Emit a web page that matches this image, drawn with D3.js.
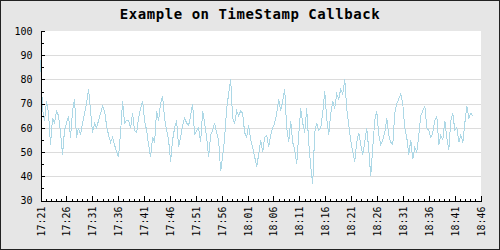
<!DOCTYPE html>
<html><head><meta charset="utf-8">
<script src="https://cdn.jsdelivr.net/npm/d3@7/dist/d3.min.js"></script>
<style>body{margin:0;background:#fff;} svg{display:block;}</style>
</head><body>
<script>
// ---- data ----
const chartTitle = "Example on TimeStamp Callback";
const startTime = "2024-01-01T17:21:00Z";
const sampleSeconds = 23.2;
const values = [
  88, 68, 63, 71, 66, 53, 64, 62, 67, 65, 58, 49, 59, 62, 65, 56, 67, 72, 56, 60,
  57, 62, 66, 70, 76, 67, 58, 62, 60, 63, 66, 69, 67, 61, 57, 54, 56, 53, 50, 48,
  58, 71, 62, 63, 63,
  60, 66, 59, 58, 64, 68, 71, 63, 59, 53, 48, 56, 54, 67, 63, 70, 73, 64, 59, 55,
  46, 55, 60, 63, 52, 56, 61, 64, 62, 61, 65, 70, 57, 59, 60, 54, 67, 62, 56, 48,
  57, 59, 62, 58,
  55, 42, 48, 56, 68, 74, 80, 64, 62, 67, 65, 67, 66, 58, 56, 61, 55, 52, 48, 44,
  49, 55, 50, 56, 57, 52, 57, 60, 62, 66, 72, 67, 71, 76, 60, 54, 63, 54, 51, 45,
  57, 68, 62, 58,
  68, 54, 44, 37, 58, 62, 59, 60, 66, 75, 64, 57, 66, 71, 68, 74, 72, 76, 74, 80,
  68, 61, 55, 50, 46, 54, 58, 53, 49, 54, 60, 51, 40, 52, 63, 67, 57, 53, 55, 58,
  64, 57, 54, 53,
  66, 70, 72, 74, 70, 60, 56, 49, 55, 47, 52, 50, 57, 65, 67, 69, 60, 59, 56, 58,
  63, 65, 53, 57, 55, 63, 56, 51, 63, 66, 59, 60, 54, 57, 54, 62, 69, 64, 66, 65
];
const xTickLabels = ["17:21","17:26","17:31","17:36","17:41","17:46","17:51","17:56",
  "18:01","18:06","18:11","18:16","18:21","18:26","18:31","18:36","18:41","18:46"];
const yTicks = [30, 40, 50, 60, 70, 80, 90, 100];
const yMinorTicks = [35, 45, 55, 65, 75, 85, 95];
const yGrid = [40, 50, 60, 70, 80, 90];

// ---- layout ----
const W = 500, H = 250;
const L = 40.5, R = 480.5, T = 31, B = 200.5;

const svg = d3.select("body").append("svg").attr("width", W).attr("height", H);
svg.append("rect").attr("x", 0.5).attr("y", 0.5).attr("width", W - 1).attr("height", H - 1)
  .attr("fill", "#e6e6e6").attr("stroke", "#222").attr("shape-rendering", "crispEdges");
svg.append("rect").attr("x", L).attr("y", T).attr("width", R - L).attr("height", B - T)
  .attr("fill", "#fff").attr("shape-rendering", "crispEdges");

const day = startTime.slice(0, 11);
const parseTick = s => new Date(day + s + ":00Z");
const t0 = new Date(startTime);
const data = values.map((v, i) => ({t: new Date(t0.getTime() + i * sampleSeconds * 1000), v}));

const x = d3.scaleUtc().domain([parseTick(xTickLabels[0]), parseTick(xTickLabels[xTickLabels.length - 1])]).range([L, R]);
const y = d3.scaleLinear().domain([30, 100]).range([B, T]);

// grid
svg.append("g").selectAll("line").data(yGrid).join("line")
  .attr("x1", L).attr("x2", R).attr("y1", d => Math.round(y(d)) + 0.5).attr("y2", d => Math.round(y(d)) + 0.5)
  .attr("stroke", "#dcdcdc").attr("shape-rendering", "crispEdges");

// line
svg.append("path").datum(data)
  .attr("fill", "none").attr("stroke", "#add8e6").attr("stroke-width", 1)
  .attr("shape-rendering", "crispEdges")
  .attr("d", d3.line().x(d => x(d.t)).y(d => y(d.v)));

// y axis
const font = "'DejaVu Sans Mono', monospace";
svg.append("g").attr("transform", `translate(${L},0)`)
  .call(d3.axisLeft(y).tickValues(yTicks).tickSize(-4).tickPadding(8).tickFormat(d3.format("d")));
svg.append("g").attr("transform", `translate(${L},0)`)
  .call(d3.axisLeft(y).tickValues(yMinorTicks).tickSize(-3).tickFormat(""))
  .call(g => g.select(".domain").remove());

// x axis
const xMajor = xTickLabels.map(parseTick);
const xMinor = d3.utcMinute.range(xMajor[0], xMajor[xMajor.length - 1]).filter(d => !xMajor.some(m => +m === +d));
const xAxis = svg.append("g").attr("transform", `translate(0,${B})`)
  .call(d3.axisBottom(x).tickValues(xMajor).tickSize(-5).tickFormat((d, i) => xTickLabels[i]));
svg.append("g").attr("transform", `translate(0,${B})`)
  .call(d3.axisBottom(x).tickValues(xMinor).tickSize(-2).tickFormat(""))
  .call(g => g.select(".domain").remove());
xAxis.selectAll("text")
  .attr("transform", "rotate(-90)").attr("text-anchor", "end")
  .attr("x", -6).attr("y", 0).attr("dy", "0.35em");

svg.selectAll(".tick line, .domain").attr("stroke", "#000").attr("shape-rendering", "crispEdges");
svg.selectAll(".tick text").attr("font-family", font).attr("font-size", 10).attr("fill", "#000");

// title
svg.append("text").attr("x", W / 2).attr("y", 19).attr("text-anchor", "middle")
  .attr("font-family", font).attr("font-weight", "bold").attr("font-size", 14)
  .attr("letter-spacing", 0.55).attr("fill", "#000").text(chartTitle);
</script>
</body></html>
